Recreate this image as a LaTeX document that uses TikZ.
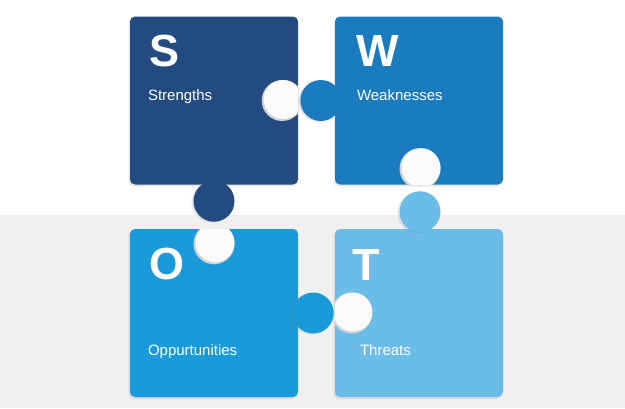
\documentclass[tikz,border=0pt]{standalone}
\usepackage{fontspec}
\setmainfont{Liberation Sans}
\usetikzlibrary{shadows}
\definecolor{sblue}{HTML}{244B7F}
\definecolor{wblue}{HTML}{1A7BBE}
\definecolor{oblue}{HTML}{1B9AD9}
\definecolor{tblue}{HTML}{6CBCE8}
\definecolor{bggray}{HTML}{F0F0F0}
\definecolor{holefill}{HTML}{FBFBFB}
\definecolor{holerim}{HTML}{D2D2D2}
\tikzstyle{square} = [rectangle, rounded corners=5pt, minimum width=168pt, minimum height=168pt, inner sep=0pt, drop shadow={shadow xshift=-1.5pt, shadow yshift=-2pt, opacity=0.18}]
\tikzstyle{knob} = [drop shadow={shadow xshift=-2pt, shadow yshift=-1pt, opacity=0.18}]
\tikzstyle{letter} = [text=white, font=\fontsize{45}{45}\selectfont\bfseries, inner sep=0pt, anchor=base west]
\tikzstyle{caption} = [text=white, font=\fontsize{15}{15}\selectfont, inner sep=0pt, anchor=base west]
\tikzstyle{rim} = [fill=holerim]
\tikzstyle{hole} = [fill=holefill]

\begin{document}
\begin{tikzpicture}[x=1pt, y=-1pt]
        \useasboundingbox (0,0) rectangle (625,408);
        \fill[white] (0,0) rectangle (625,215);
        \fill[bggray] (0,215) rectangle (625,408);
        % the four squares
        \node (s-box) [square, fill=sblue] at (214,100.5) {};
        \node (w-box) [square, fill=wblue] at (419,100.5) {};
        \node (o-box) [square, fill=oblue] at (214,313) {};
        \node (t-box) [square, fill=tblue] at (419,313) {};
        % holes, cut to their squares
        \begin{scope}
            \clip (130,16.5) rectangle (298,184.5);
            \fill[rim] ([xshift=-16pt]s-box.east) circle (20.5pt);
            \fill[hole] ([xshift=-15pt, yshift=1pt]s-box.east) circle (19.5pt);
        \end{scope}
        \begin{scope}
            \clip (335,16.5) rectangle (503,184.5);
            \fill[rim] ([xshift=1pt, yshift=16pt]w-box.south) circle (20.5pt);
            \fill[hole] ([xshift=2pt, yshift=17pt]w-box.south) circle (19.5pt);
        \end{scope}
        \begin{scope}
            \clip (130,229) rectangle (298,397);
            \fill[rim] ([yshift=-15pt]o-box.north) circle (20.5pt);
            \fill[hole] ([xshift=1pt, yshift=-14pt]o-box.north) circle (19.5pt);
        \end{scope}
        \begin{scope}
            \clip (335,229) rectangle (503,397);
            \fill[rim] ([xshift=17pt]t-box.west) circle (20.5pt);
            \fill[hole] ([xshift=18pt, yshift=1pt]t-box.west) circle (19.5pt);
        \end{scope}
        % knobs
        \fill[sblue, knob] ([yshift=-16.5pt]s-box.south) circle (20.5pt);
        \fill[wblue, knob] ([xshift=-14pt]w-box.west) circle (20.5pt);
        \fill[oblue, knob] ([xshift=15pt]o-box.east) circle (20.5pt);
        \fill[tblue, knob] ([xshift=1pt, yshift=17pt]t-box.north) circle (20.5pt);
        % letters and captions
        \node (s-letter) [letter] at ([xshift=19pt, yshift=-50.5pt]s-box.north west) {S};
        \node (w-letter) [letter] at ([xshift=21pt, yshift=-50.5pt]w-box.north west) {W};
        \node (o-letter) [letter] at ([xshift=19pt, yshift=-51pt]o-box.north west) {O};
        \node (t-letter) [letter] at ([xshift=17pt, yshift=-52pt]t-box.north west) {T};
        \node (strengths) [caption] at ([xshift=18pt, yshift=-84.5pt]s-box.north west) {Strengths};
        \node (weaknesses) [caption] at ([xshift=22pt, yshift=-84.5pt]w-box.north west) {Weaknesses};
        \node (opportunities) [caption] at ([xshift=18pt, yshift=-127pt]o-box.north west) {Oppurtunities};
        \node (threats) [caption] at ([xshift=25pt, yshift=-127pt]t-box.north west) {Threats};
    \end{tikzpicture}
\end{document}
